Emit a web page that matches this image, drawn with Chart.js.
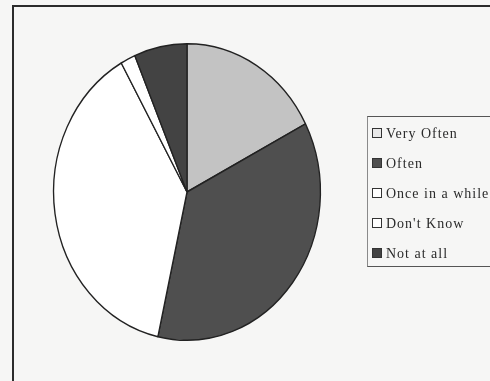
<!DOCTYPE html>
<html>
<head>
<meta charset="utf-8">
<script src="https://cdn.jsdelivr.net/npm/chart.js@4/dist/chart.umd.min.js"></script>
<style>
  html, body { margin: 0; padding: 0; background: #f6f6f5; }
  #wrap { position: relative; width: 490px; height: 381px; overflow: hidden; }
  #frame { position: absolute; left: 12px; top: 5px; width: 520px; height: 420px;
           border-left: 2px solid #2c2c2c; border-top: 2px solid #2c2c2c; }
  #pie { position: absolute; left: 0; top: 0; }
  #legend { position: absolute; left: 367px; top: 116px; width: 140px; height: 149px;
            border: 1px solid #8a8a8a; border-top-color: #555; border-bottom-color: #555;
            font-family: "Liberation Serif", "DejaVu Serif", serif; font-size: 14px;
            letter-spacing: 1px; color: #2a2a2a; }
  .item { position: absolute; left: 4px; height: 18px; line-height: 18px; white-space: nowrap; }
  .box { display: inline-block; width: 8px; height: 8px; border: 1px solid #333;
         margin-right: 4px; vertical-align: 0px; }
</style>
</head>
<body>
<div id="wrap">
  <div id="frame"></div>
  <canvas id="pie" width="490" height="381"></canvas>
  <div id="legend"></div>
</div>
<script>
// Survey answers, share of respondents in percent
const answers = ['Very Often', 'Often', 'Once in a while', "Don't Know", 'Not at all'];
const shares = [17.4, 36.1, 38.3, 1.8, 6.4];
const fills = ['#c3c3c3', '#4f4f4f', '#ffffff', '#ffffff', '#434343'];

// Pie is printed slightly narrower than tall
const squash = {
    id: 'squash',
    beforeDatasetsDraw(chart) {
        const ctx = chart.ctx;
        const a = chart.chartArea;
        const cx = (a.left + a.right) / 2;
        ctx.save();
        ctx.translate(cx, 0);
        ctx.scale(0.9, 1);
        ctx.translate(-cx, 0);
    },
    afterDatasetsDraw(chart) {
        chart.ctx.restore();
    }
};

const chart = new Chart(document.getElementById('pie'), {
    type: 'pie',
    data: {
        labels: answers,
        datasets: [{
            data: shares,
            backgroundColor: fills,
            borderColor: '#222222',
            borderWidth: 1.5
        }]
    },
    options: {
        responsive: false,
        animation: false,
        layout: { padding: { left: 38, top: 43, right: 154, bottom: 40 } },
        plugins: {
            legend: { display: false },
            tooltip: { enabled: false }
        }
    },
    plugins: [squash]
});

// Legend next to the pie
const legend = document.getElementById('legend');
const rows = [8, 38, 68, 98, 128];
answers.forEach(function(name, i) {
    const item = document.createElement('div');
    item.className = 'item';
    item.style.top = rows[i] + 'px';
    const box = document.createElement('span');
    box.className = 'box';
    box.style.background = fills[i] === '#c3c3c3' ? '#e8e8e8' : fills[i];
    item.appendChild(box);
    item.appendChild(document.createTextNode(name));
    legend.appendChild(item);
});
</script>
</body>
</html>
